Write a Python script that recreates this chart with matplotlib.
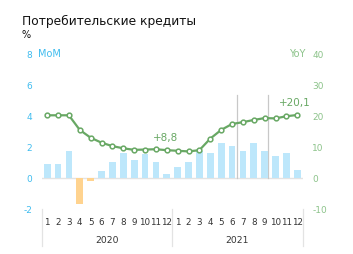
import numpy as np
import matplotlib
matplotlib.use('Agg')
import matplotlib.pyplot as plt


months = [str(m) for m in range(1, 13)] * 2
years = ['2020', '2021']

# monthly change, %
mom = [0.9, 0.9, 1.7, -1.7, -0.2, 0.4, 1.0, 1.6, 1.1, 1.5, 1.0, 0.2,
       0.7, 1.0, 1.7, 1.6, 2.2, 2.0, 1.7, 2.2, 1.7, 1.4, 1.6, 0.5]

# year-on-year change, %
yoy = [20.0, 20.0, 20.0, 15.3, 12.8, 11.2, 10.1, 9.4, 8.9, 9.0, 9.1, 8.8,
       8.6, 8.4, 8.8, 12.5, 15.3, 17.2, 17.8, 18.5, 19.1, 19.0, 19.7, 20.1]

left_ticks = [-2, 0, 2, 4, 6, 8]
right_ticks = [-10, 0, 10, 20, 30, 40]

blue = '#bde7fb'
orange = '#ffd38f'
green = '#68a864'
tick_blue = '#3fbcef'
tick_green = '#8cc38a'
grey_txt = '#333333'

fig = plt.figure(figsize=(3.53, 2.55), dpi=100)
ax = fig.add_axes([41.7 / 353, 0.1776, 261.0 / 353, 0.6106])

x = np.arange(len(mom))
colors = [blue if v >= 0 else orange for v in mom]

ax.axhline(0, color='#e3e3e3', linewidth=1, zorder=1)
ax.bar(x, mom, width=0.62, color=colors, zorder=2)

# markers for the two highlighted months
for xv in [17.5, 20.3]:
    ax.plot([xv, xv], [0, 5.3], color='#c8c8c8', linewidth=0.9, zorder=1.5)

ax.set_xlim(-0.5, 23.5)
ax.set_ylim(-2, 8)
ax.set_yticks(left_ticks)
ax.set_yticklabels([str(t) for t in left_ticks])
ax.tick_params(axis='y', length=0, pad=7, labelsize=6.5, labelcolor=tick_blue)
ax.set_xticks([])
for s in ax.spines.values():
    s.set_visible(False)

ax2 = ax.twinx()
ax2.plot(x, yoy, color=green, linewidth=1.6, marker='o', markersize=3.4,
         markerfacecolor='white', markeredgecolor=green, markeredgewidth=1.1,
         zorder=5)
ax2.set_ylim(-10, 40)
ax2.set_yticks(right_ticks)
ax2.set_yticklabels([str(t) for t in right_ticks])
ax2.tick_params(axis='y', length=0, pad=7, labelsize=6.5, labelcolor=tick_green)
for s in ax2.spines.values():
    s.set_visible(False)

# month and year labels below the plot
for i, m in enumerate(months):
    ax.annotate(m, xy=(i, 0), xycoords=('data', 'axes fraction'),
                xytext=(0, -12.3), textcoords='offset pixels',
                ha='center', va='center', fontsize=6.3, color=grey_txt)
for j, yr in enumerate(years):
    ax.annotate(yr, xy=(j * 12 + 5.5, 0), xycoords=('data', 'axes fraction'),
                xytext=(0, -31), textcoords='offset pixels',
                ha='center', va='center', fontsize=6.6, color=grey_txt)
for xv in [-0.5, 11.5, 23.5]:
    ax.plot([xv, xv], [0, -0.241], transform=ax.get_xaxis_transform(),
            color='#e3e3e3', linewidth=0.9, clip_on=False)

# value labels
ax2.annotate('+8,8', xy=(11, 8.8), xytext=(165.5, 255 - 138.3),
             textcoords='figure pixels', ha='center', va='center',
             fontsize=7.5, color=green)
ax2.annotate('+20,1', xy=(23, 20.1), xytext=(294.5, 255 - 103),
             textcoords='figure pixels', ha='center', va='center',
             fontsize=7.5, color=green)

# axis captions
fig.text(38 / 353, 1 - 53.7 / 255, 'MoM', ha='left', va='center',
         fontsize=7, color=tick_blue)
fig.text(305 / 353, 1 - 53.7 / 255, 'YoY', ha='right', va='center',
         fontsize=7, color=tick_green)

fig.text(21.5 / 353, 1 - 21 / 255, 'Потребительские кредиты', ha='left',
         va='center', fontsize=8.8, color='#111111')
fig.text(21.5 / 353, 1 - 35.5 / 255, '%', ha='left', va='center',
         fontsize=7, color='#111111')

fig.savefig('out.png', dpi=100)
